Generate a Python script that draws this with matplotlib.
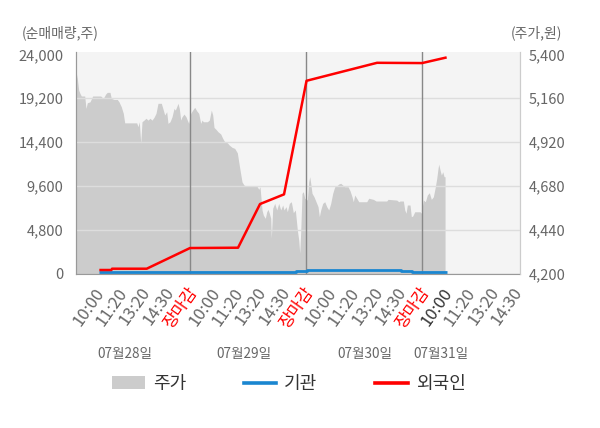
import matplotlib
matplotlib.use("Agg")
import matplotlib.pyplot as plt
import matplotlib.transforms as mtransforms
from matplotlib.patches import Patch
from matplotlib.lines import Line2D

plt.rcParams['font.family'] = ['Noto Sans CJK KR', 'DejaVu Sans']

# ---------------- data ----------------
tick_labels = ["10:00", "11:20", "13:20", "14:30", "장마감",
               "10:00", "11:20", "13:20", "14:30", "장마감",
               "10:00", "11:20", "13:20", "14:30", "장마감",
               "10:00", "11:20", "13:20", "14:30"]
tick_pos = [0, 10, 20, 30, 40, 50, 60, 70, 80, 90, 100, 110, 120, 130, 140,
            150, 160, 170, 180]
day_close = [40, 90, 140]
day_labels = ["07월28일", "07월29일", "07월30일", "07월31일"]
day_label_pos = [11.8, 63.5, 115.5, 148.1]

# stock price (주가, 원) - time index and value
price_t = [-9.05, -8.49, -7.89, -7.33, -6.77, -5.30, -4.74, -4.18, -3.02, -1.85,
           1.59, 2.72, 3.75, 4.44, 5.60, 6.16, 7.33, 8.75, 9.48, 10.47,
           11.34, 11.94, 17.11, 17.67, 18.23, 18.84, 19.40, 20.26, 21.12, 21.98,
           22.84, 23.71, 24.57, 25.43, 26.29, 27.72, 28.58, 29.18, 30.04,
           30.60, 31.47, 32.33, 33.19, 33.75, 34.35, 34.91, 35.47, 36.08, 36.64,
           37.50, 38.36, 38.92, 39.53, 40.39, 41.25, 42.11, 42.97, 43.84, 44.70,
           45.26, 45.82, 47.54, 48.41, 49.27, 49.87, 50.43, 51.29, 52.16, 53.32,
           54.18, 55.04, 56.16, 57.03, 58.19, 59.35, 60.47, 61.64, 62.50, 63.36,
           64.53, 68.53, 69.10, 69.70, 70.26,
           71.12, 71.68, 72.54, 73.15, 73.71, 74.27, 74.87, 75.13, 75.73, 76.59,
           77.46, 78.32, 79.18, 80.04, 80.60, 81.47, 82.03, 82.89, 83.75, 84.61,
           85.47, 86.34, 86.94, 87.37, 87.80, 88.36, 88.92, 89.53, 90.65, 91.25,
           91.68, 92.11, 92.67, 93.53, 94.40, 95.26, 95.82, 96.42, 97.28, 98.15,
           99.01, 99.87, 100.73, 101.59, 102.46, 103.32, 104.18, 105.04, 105.91,
           106.77, 108.19,
           109.05, 109.91, 110.47, 111.08, 111.94, 112.80, 116.25, 117.11, 119.10,
           120.26, 124.87, 125.43, 129.18, 130.04, 130.60, 132.03, 132.63, 133.19,
           133.75, 134.91, 135.47, 136.08, 136.94, 139.22, 139.78, 140.65, 141.51,
           142.37, 143.23, 144.09, 144.96, 145.82, 146.42, 146.98, 147.28, 147.84,
           148.41, 149.01, 149.57, 150.00]
price = [5305, 5268, 5204, 5186, 5172, 5172, 5104, 5135, 5140, 5172,
         5172, 5159, 5183, 5192, 5192, 5159, 5153, 5153, 5140, 5113,
         5077, 5025, 5025, 5004, 5031, 4913, 5031, 5040, 5050, 5040,
         5050, 5040, 5055, 5077, 5132, 5132, 5095, 5068, 5086,
         5022, 5031, 5058, 5104, 5095, 5113, 5132, 5104, 5040, 5058,
         5073, 5058, 5040, 5022, 5077, 5095, 5110, 5091, 5077, 5022,
         5040, 5031, 5031, 5040, 5095, 5068, 5000, 4989, 4976, 4964,
         4940, 4921, 4916, 4903, 4891, 4885, 4861, 4767, 4702, 4684,
         4679, 4679, 4675, 4661, 4675,
         4548, 4520, 4502, 4538, 4551, 4530, 4502, 4393, 4557, 4584,
         4548, 4584, 4548, 4575, 4548, 4566, 4538, 4584, 4593, 4533,
         4548, 4438, 4383, 4311, 4429, 4639, 4648, 4612, 4602, 4702,
         4730, 4694, 4639, 4620, 4593, 4566, 4511, 4548, 4584, 4593,
         4566, 4548, 4584, 4639, 4675, 4679, 4690, 4694, 4684,
         4675, 4675,
         4653, 4620, 4593, 4630, 4612, 4593, 4593, 4612, 4606,
         4597, 4597, 4606, 4602, 4593, 4597, 4597, 4548, 4530,
         4575, 4575, 4511, 4515, 4538, 4538, 4530, 4602, 4593,
         4630, 4642, 4606, 4620, 4675, 4721, 4776, 4799, 4767,
         4739, 4757, 4730, 4730]

# foreigners (외국인) cumulative net volume
foreign_t = [1.0, 6.2, 6.5, 21.42, 40.09, 60.78, 70.26, 80.60, 90.30, 120.69, 140.09, 150.7]
foreign = [383, 383, 525, 525, 2790, 2825, 7610, 8670, 21110, 23080, 23050, 23670]

# institutions (기관) cumulative net volume
inst_t = [1.0, 81.0, 81.0, 85.8, 85.8, 90.4, 90.4, 131.0, 131.0, 135.8, 135.8, 150.7]
inst = [160, 160, 185, 185, 240, 240, 360, 360, 275, 275, 140, 140]

left_ticks = [0, 4800, 9600, 14400, 19200, 24000]
right_ticks = [4200, 4440, 4680, 4920, 5160, 5400]

# ---------------- figure ----------------
fig = plt.figure(figsize=(6.0, 4.28), dpi=100)
fig.patch.set_facecolor("white")

ax2 = fig.add_axes([76/600, (428-273.5)/428, 444/600, 221.5/428])
ax = ax2.twinx()

ax2.set_facecolor("#f4f4f4")
ax.patch.set_visible(False)
ax.set_zorder(ax2.get_zorder() + 1)

# price area on right axis
ax2.fill_between(price_t, price, 4100, color="#cccccc", linewidth=0)
ax2.set_ylim(4200, 5413)
ax2.set_xlim(-9.05, 182.3)

# volume lines on left axis (drawn on top)
ax.set_ylim(0, 24263)
for yv in left_ticks[1:-1]:
    ax.axhline(yv, color="#dddddd", lw=1.0, zorder=1)
ax.axhline(0, color="#bbbbbb", lw=1.0, zorder=1)
for xv in day_close:
    ax.axvline(xv, color="#888888", lw=1.0, zorder=2)
ax.plot(inst_t, inst, color="#1a86d0", lw=2.0, zorder=3, solid_capstyle="butt")
ax.plot(foreign_t, foreign, color="#ff0000", lw=1.8, zorder=4, solid_capstyle="butt")

# axes placement: left axis labels for volume, right for price
ax.yaxis.set_ticks_position("left")
ax.yaxis.set_label_position("left")
ax2.yaxis.set_ticks_position("right")
ax2.yaxis.set_label_position("right")

ax.set_yticks(left_ticks)
ax.set_yticklabels([f"{v:,}" for v in left_ticks])
ax2.set_yticks(right_ticks)
ax2.set_yticklabels([f"{v:,}" for v in right_ticks])
ax.tick_params(axis="y", length=0, pad=9, labelsize=10.5, labelcolor="#666666")
ax2.tick_params(axis="y", length=0, pad=6, labelsize=10.5, labelcolor="#666666")

ax2.set_xticks(tick_pos)
ax2.set_xticklabels(tick_labels, rotation=55, ha="right", rotation_mode="anchor")
ax2.set_xticks(day_close, minor=True)
ax2.tick_params(axis="x", which="major", length=0, pad=8, labelsize=12,
                labelcolor="#666666")
ax2.tick_params(axis="x", which="minor", length=4, width=1, color="#888888",
                direction="out", labelbottom=False)
shift = mtransforms.ScaledTranslation(-3/100, 0, fig.dpi_scale_trans)
for i, lab in enumerate(ax2.get_xticklabels()):
    lab.set_transform(lab.get_transform() + shift)
    if tick_labels[i] == "장마감":
        lab.set_color("#ff0000")
    elif i == 15:
        lab.set_color("#333333")

for a in (ax, ax2):
    a.spines["top"].set_visible(False)
    a.spines["left"].set_color("#999999")
    a.spines["right"].set_color("#cccccc")
    a.spines["bottom"].set_color("#999999")
ax.spines["bottom"].set_visible(False)

# axis unit titles
fig.text(22/600, 1 - 33/428, "(순매매량,주)", fontsize=10, color="#666666",
         ha="left", va="center")
fig.text(562/600, 1 - 33/428, "(주가,원)", fontsize=10, color="#666666",
         ha="right", va="center")

# day labels
for xp, lab in zip(day_label_pos, day_labels):
    ax2.text(xp, -0.365, lab, transform=ax2.get_xaxis_transform(), ha="center",
             va="center", fontsize=9.8, color="#666666")

# legend
handles = [Patch(facecolor="#cccccc", edgecolor="none"),
           Line2D([], [], color="#1a86d0", lw=2.6),
           Line2D([], [], color="#ff0000", lw=2.6)]
fig.legend(handles, ["주가", "기관", "외국인"], loc="center",
           bbox_to_anchor=(289/600, 1 - 384/428), ncol=3, frameon=False,
           fontsize=13, handlelength=1.8, handleheight=0.75, handletextpad=0.45,
           columnspacing=3.2, labelcolor="#333333")

fig.savefig("out.png", dpi=100, facecolor="white")
